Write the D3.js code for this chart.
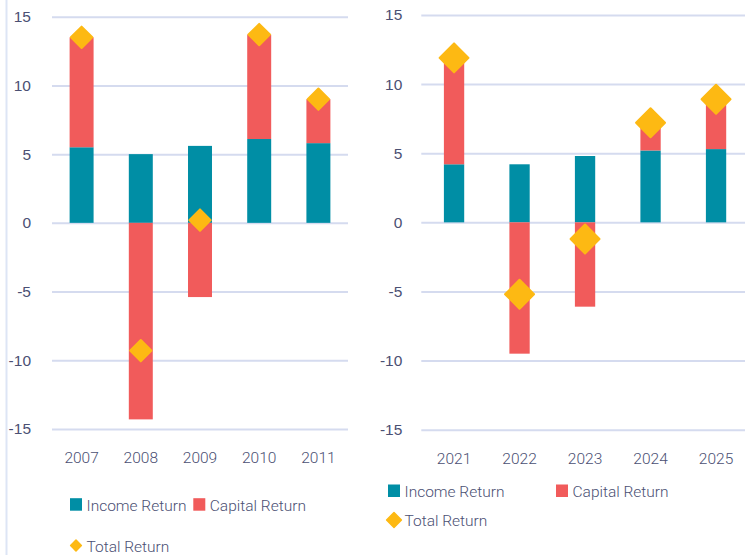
<!DOCTYPE html>
<html lang="en">
<head>
    <meta charset="utf-8">
    <title>Income / Capital / Total Return</title>
    <script src="https://cdnjs.cloudflare.com/ajax/libs/d3/7.8.5/d3.min.js"></script>
    <style>
        body { margin: 0; background: #fff; }
        svg { display: block; font-family: Roboto, "Liberation Sans", sans-serif; }
        .lbl { fill: #4b5073; font-size: 15.5px; font-weight: 300; }
    </style>
</head>
<body>
<div id="viz"></div>
<script>
    // values
    var yTicks = [-15, -10, -5, 0, 5, 10, 15];

    var years1 = ["2007", "2008", "2009", "2010", "2011"];
    var income1 = [5.5, 5.0, 5.6, 6.1, 5.8];
    var capital1 = [8.0, -14.3, -5.4, 7.6, 3.2];
    var total1 = [13.5, -9.3, 0.2, 13.7, 9.0];

    var years2 = ["2021", "2022", "2023", "2024", "2025"];
    var income2 = [4.2, 4.2, 4.8, 5.2, 5.3];
    var capital2 = [7.7, -9.5, -6.1, 2.0, 3.6];
    var total2 = [11.9, -5.2, -1.2, 7.2, 8.9];

    var legendLabels = ["Income Return", "Capital Return", "Total Return"];

    var colIncome = "#008ea5", colCapital = "#f15b5b", colTotal = "#fdb913";
    var colGrid = "#d5dbef", colText = "#4b5073";

    var svg = d3.select("#viz").append("svg")
        .attr("width", 745)
        .attr("height", 555);

    // light divider on the far left
    svg.append("line")
        .attr("x1", 6.5).attr("x2", 6.5)
        .attr("y1", 0).attr("y2", 555)
        .style("stroke", "#dde5f5")
        .style("stroke-width", 2);

    function diamond(size) {
        return d3.symbol().type(d3.symbolSquare).size(size)();
    }

    function drawPanel(opt) {
        var g = svg.append("g");

        var y = d3.scaleLinear().domain([-15, 15]).range(opt.yRange);
        var x = d3.scaleBand().domain(opt.years).range(opt.xRange)
            .paddingInner(opt.pad).paddingOuter(opt.pad / 2);

        var rows = opt.years.map((yr, i) => ({year: yr, income: opt.income[i], capital: opt.capital[i], total: opt.total[i]}));

        // grid + y labels
        g.append("g")
            .attr("transform", `translate(${opt.gridX[0]},0)`)
            .call(d3.axisLeft(y).tickValues(yTicks).tickSize(-(opt.gridX[1] - opt.gridX[0])).tickPadding(opt.labelGap).tickFormat(d => String(d)))
            .call(a => a.select(".domain").remove())
            .call(a => a.selectAll(".tick line").style("stroke", colGrid).style("stroke-width", 2))
            .call(a => a.selectAll(".tick text").attr("class", "lbl").attr("font-size", null).attr("font-family", null).style("fill", colText));

        // stacked bars
        var stack = d3.stack().keys(["income", "capital"]).offset(d3.stackOffsetDiverging);
        var series = stack(rows);
        var colors = [colIncome, colCapital];

        g.selectAll("g.series")
            .data(series)
            .enter()
            .append("g")
            .attr("class", "series")
            .style("fill", (d, i) => colors[i])
            .selectAll("rect")
            .data(d => d)
            .enter()
            .append("rect")
            .attr("x", d => x(d.data.year))
            .attr("width", x.bandwidth())
            .attr("y", d => y(Math.max(d[0], d[1])))
            .attr("height", d => Math.abs(y(d[0]) - y(d[1])));

        // total return diamonds
        g.selectAll("path.total")
            .data(rows)
            .enter()
            .append("path")
            .attr("class", "total")
            .attr("d", diamond(opt.dSize))
            .attr("transform", d => `translate(${x(d.year) + x.bandwidth() / 2},${y(d.total)}) rotate(45)`)
            .style("fill", colTotal)
            .style("stroke", colTotal)
            .style("stroke-width", 2)
            .style("stroke-linejoin", "round");

        // x labels
        g.selectAll("text.xl")
            .data(opt.years)
            .enter()
            .append("text")
            .attr("class", "lbl")
            .attr("x", d => x(d) + x.bandwidth() / 2)
            .attr("y", opt.xLabelY)
            .style("text-anchor", "middle")
            .text(d => d);

        // legend
        var lg = g.append("g");
        opt.legend.forEach((it, i) => {
            if (i < 2) {
                lg.append("rect")
                    .attr("x", it[0]).attr("y", it[1] - 12.5)
                    .attr("width", 12).attr("height", 12.5)
                    .style("fill", colors[i]);
            } else {
                lg.append("path")
                    .attr("d", diamond(opt.legendD))
                    .attr("transform", `translate(${it[0] + 6},${it[1] - 6}) rotate(45)`)
                    .style("fill", colTotal)
                    .style("stroke", colTotal)
                    .style("stroke-width", 1.5)
                    .style("stroke-linejoin", "round");
            }
            lg.append("text")
                .attr("class", "lbl")
                .attr("x", it[0] + 16.5)
                .attr("y", it[1])
                .text(legendLabels[i]);
        });
    }

    drawPanel({
        years: years1, income: income1, capital: capital1, total: total1,
        yRange: [429, 16.7], xRange: [52, 348], gridX: [52, 348], pad: 0.595,
        labelGap: 21, xLabelY: 463, dSize: 230,
        legend: [[70, 510.7], [193.3, 510.7], [70, 551.5]], legendD: 58
    });

    drawPanel({
        years: years2, income: income2, capital: capital2, total: total2,
        yRange: [429.7, 15], xRange: [421.3, 748.8], gridX: [421.3, 745], pad: 0.69,
        labelGap: 19, xLabelY: 464, dSize: 420,
        legend: [[388, 497], [556, 497], [388, 526]], legendD: 110
    });
</script>
</body>
</html>
